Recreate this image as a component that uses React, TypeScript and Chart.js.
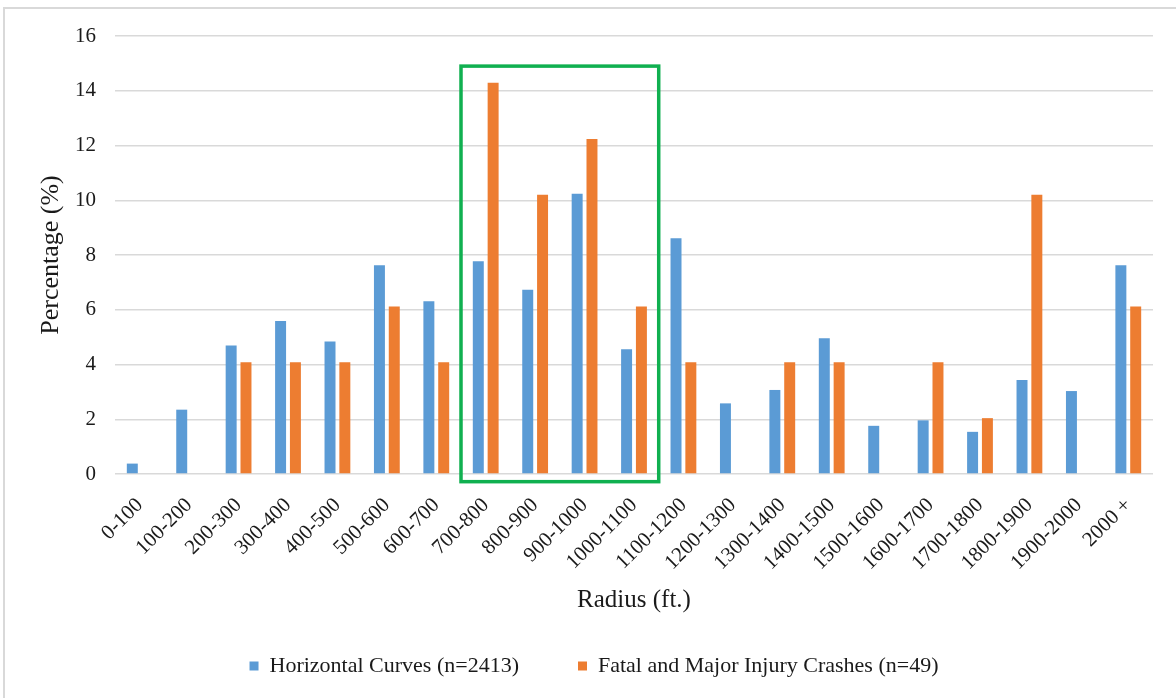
import React, { useEffect, useRef } from "react";
import { Chart, registerables } from "chart.js";

Chart.register(...registerables);

const categories = [
  "0-100", "100-200", "200-300", "300-400", "400-500", "500-600", "600-700",
  "700-800", "800-900", "900-1000", "1000-1100", "1100-1200", "1200-1300",
  "1300-1400", "1400-1500", "1500-1600", "1600-1700", "1700-1800",
  "1800-1900", "1900-2000", "2000 +",
];

const horizontalCurves = [
  0.38, 2.35, 4.69, 5.59, 4.84, 7.63, 6.31, 7.77, 6.73, 10.24, 4.56, 8.61,
  2.58, 3.07, 4.96, 1.76, 1.96, 1.54, 3.43, 3.03, 7.63,
];

const fatalMajorCrashes = [
  0, 0, 4.08, 4.08, 4.08, 6.12, 4.08, 14.29, 10.2, 12.24, 6.12, 4.08,
  0, 4.08, 4.08, 0, 4.08, 2.04, 10.2, 0, 6.12,
];

const yTicks = [0, 2, 4, 6, 8, 10, 12, 14, 16];

const seriesLabels = [
  "Horizontal Curves (n=2413)",
  "Fatal and Major Injury Crashes (n=49)",
];

// highlighted range (categories) and its vertical extent in data units
const highlightCategories = ["700-800", "1000-1100"];
const highlightValues = [-0.28, 14.9];

const FONT = "'Liberation Serif', 'Times New Roman', serif";
const TEXT = "#1a1a1a";

const highlightPlugin = {
  id: "highlightBox",
  afterDatasetsDraw(chart: any) {
    const x = chart.scales.x;
    const y = chart.scales.y;
    const i0 = categories.indexOf(highlightCategories[0]);
    const i1 = categories.indexOf(highlightCategories[1]);
    const half = (x.getPixelForValue(1) - x.getPixelForValue(0)) / 2;
    const left = x.getPixelForValue(i0) - half;
    const right = x.getPixelForValue(i1) + half;
    const top = y.getPixelForValue(highlightValues[1]);
    const bottom = y.getPixelForValue(highlightValues[0]);
    const ctx = chart.ctx;
    ctx.save();
    ctx.strokeStyle = "#10B050";
    ctx.lineWidth = 3.5;
    ctx.strokeRect(left, top, right - left, bottom - top);
    ctx.restore();
  },
};

export default function App() {
  const canvasRef = useRef<HTMLCanvasElement | null>(null);

  useEffect(() => {
    document.body.style.margin = "0";
    const canvas = canvasRef.current;
    if (!canvas) return;
    const chart = new Chart(canvas, {
      type: "bar",
      data: {
        labels: categories,
        datasets: [
          {
            label: seriesLabels[0],
            data: horizontalCurves,
            backgroundColor: "#5B9BD5",
            categoryPercentage: 0.6,
            barPercentage: 0.74,
          },
          {
            label: seriesLabels[1],
            data: fatalMajorCrashes,
            backgroundColor: "#ED7D31",
            categoryPercentage: 0.6,
            barPercentage: 0.74,
          },
        ],
      },
      options: {
        responsive: false,
        animation: false,
        devicePixelRatio: 1,
        layout: { padding: { left: 35, right: 23, top: 36, bottom: 11 } },
        plugins: {
          legend: {
            position: "bottom",
            labels: {
              boxWidth: 9,
              boxHeight: 9,
              padding: 59,
              color: TEXT,
              font: { family: FONT, size: 22 },
            },
          },
          tooltip: { enabled: false },
        },
        scales: {
          x: {
            grid: { display: false, drawTicks: false },
            border: { display: false },
            ticks: {
              color: TEXT,
              font: { family: FONT, size: 21 },
              minRotation: 45,
              maxRotation: 45,
              padding: 19,
              autoSkip: false,
            },
            title: {
              display: true,
              text: "Radius (ft.)",
              color: TEXT,
              font: { family: FONT, size: 25 },
              padding: { top: 4, bottom: -19 },
            },
            afterFit: (scale: any) => {
              scale.height = 122;
            },
          },
          y: {
            min: 0,
            max: 16,
            afterBuildTicks: (scale: any) => {
              scale.ticks = yTicks.map((v) => ({ value: v }));
            },
            grid: { color: "#D9D9D9", lineWidth: 1.5, drawTicks: false },
            border: { display: false },
            ticks: {
              color: TEXT,
              font: { family: FONT, size: 21 },
              padding: 19,
            },
            title: {
              display: true,
              text: "Percentage (%)",
              color: TEXT,
              font: { family: FONT, size: 26 },
              padding: { top: 1, bottom: 4 },
            },
            afterFit: (scale: any) => {
              scale.width = 80;
            },
          },
        },
      },
      plugins: [highlightPlugin],
    });
    return () => chart.destroy();
  }, []);

  return (
    <div
      style={{
        position: "fixed",
        left: 0,
        top: 0,
        width: 1176,
        height: 698,
        overflow: "hidden",
        background: "#fff",
      }}
    >
      <div
        style={{
          position: "absolute",
          left: 3,
          top: 7,
          width: 1300,
          height: 800,
          borderTop: "2px solid #D9D9D9",
          borderLeft: "2px solid #D9D9D9",
        }}
      />
      <canvas
        ref={canvasRef}
        width={1176}
        height={698}
        style={{ position: "absolute", left: 0, top: 0, width: 1176, height: 698 }}
      />
    </div>
  );
}
